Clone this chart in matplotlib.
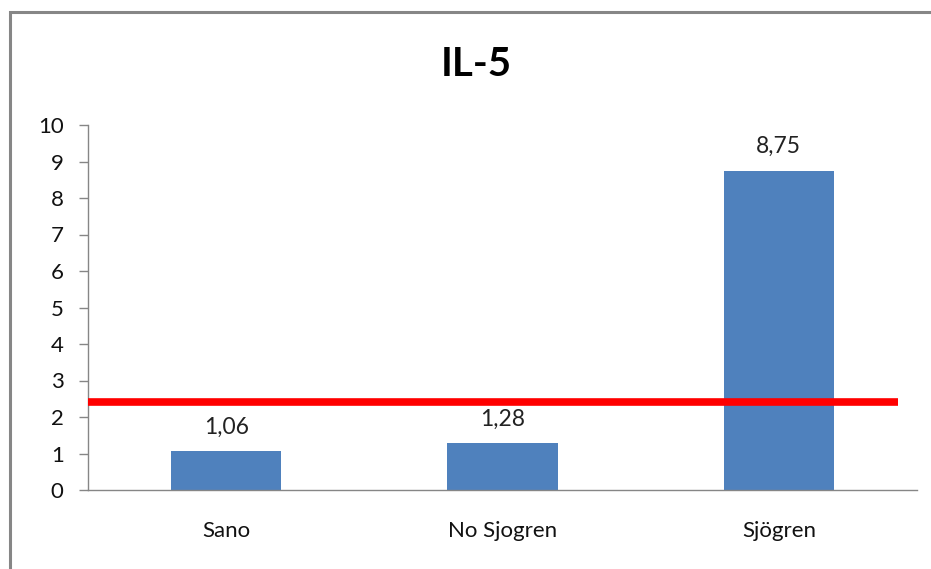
import matplotlib
matplotlib.use("Agg")
import matplotlib.pyplot as plt
from matplotlib.patches import Rectangle

categories = ["Sano", "No Sjogren", "Sjögren"]
values = [1.06, 1.28, 8.75]
value_labels = ["1,06", "1,28", "8,75"]
threshold = 2.42
threshold_x = [-0.5, 2.43]
yticks = list(range(0, 11))

plt.rcParams['font.family'] = ['Lato', 'DejaVu Sans']

W, H = 931, 569
fig = plt.figure(figsize=(W / 100, H / 100), dpi=100)

# outer chart border
fig.patches.append(Rectangle((10 / W, -0.1), 1.2, 1 - 12 / H + 0.1,
                             transform=fig.transFigure, fill=False,
                             edgecolor='#868686', linewidth=2.2))

ax = fig.add_axes([88 / W, 1 - 490 / H, (917 - 88) / W, (490 - 125) / H])
x = list(range(len(categories)))
ax.bar(x, values, width=0.40, color='#4F81BD', zorder=2)
ax.plot(threshold_x, [threshold, threshold], color='#FF0000', linewidth=5.5,
        solid_capstyle='butt', zorder=3)

for xi, v, lab in zip(x, values, value_labels):
    ax.annotate(lab, (xi, v), xytext=(0, 10), textcoords='offset points',
                ha='center', va='bottom', fontsize=16.5, color='#222222')

ax.set_xlim(-0.5, 2.5)
ax.set_ylim(0, 10)
ax.set_yticks(yticks)
ax.set_yticklabels([str(t) for t in yticks], fontsize=16, color='#111111')
ax.set_xticks(x)
ax.set_xticklabels(categories, fontsize=16, color='#111111')
ax.tick_params(axis='x', length=0, pad=22)
ax.tick_params(axis='y', length=6.5, width=1, color='#868686', pad=11)

for s in ['top', 'right']:
    ax.spines[s].set_visible(False)
for s in ['left', 'bottom']:
    ax.spines[s].set_color('#868686')
    ax.spines[s].set_linewidth(1)

fig.text((442 + 510) / 2 / W, 1 - 64 / H, "IL-5", ha='center', va='center',
         fontsize=29, fontweight='bold', color='#000000')

fig.savefig("out.png", dpi=100)
